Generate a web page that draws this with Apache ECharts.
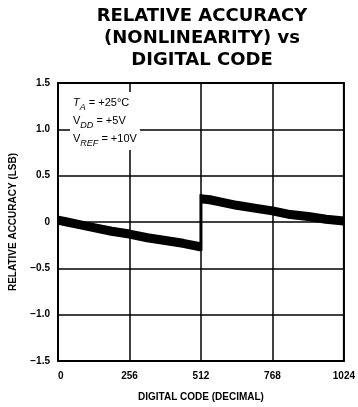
<!DOCTYPE html>
<html>
<head>
<meta charset="utf-8">
<script src="https://cdn.jsdelivr.net/npm/echarts@6/dist/echarts.min.js"></script>
<style>
  html, body { margin: 0; padding: 0; background: #fff; }
  #chart { width: 358px; height: 407px; }
</style>
</head>
<body>
<div id="chart"></div>
<script>
// digital code (x) and relative accuracy in LSB (band centre)
const codesLow = [0, 32, 64, 128, 192, 256, 320, 384, 448, 514];
const accuracyLow = [0.02, 0.0, -0.02, -0.06, -0.10, -0.13, -0.17, -0.20, -0.23, -0.27];
const codesHigh = [510, 544, 576, 640, 704, 768, 832, 896, 960, 1024];
const accuracyHigh = [0.25, 0.24, 0.22, 0.18, 0.15, 0.12, 0.08, 0.06, 0.03, 0.01];
const stepCode = [512, 512];
const stepAccuracy = [-0.31, 0.30];
const xTicks = [0, 256, 512, 768, 1024];
const titleLines = ['RELATIVE ACCURACY', '(NONLINEARITY) vs', 'DIGITAL CODE'];

const FONT = '"Liberation Sans", Arial, sans-serif';
const TITLE_FONT = '"DejaVu Sans", "Liberation Sans", sans-serif';
const chart = echarts.init(document.getElementById('chart'), null, { renderer: 'canvas' });

const pairs = (xs, ys) => xs.map((x, i) => [x, ys[i]]);
const bandStyle = { color: '#000', width: 9, cap: 'butt', join: 'bevel' };

const option = {
    animation: false,
    title: {
        text: titleLines.join('\n'),
        left: 197,
        top: 0,
        textAlign: 'center',
        textStyle: { fontFamily: TITLE_FONT, fontSize: 18, fontWeight: 'bold', color: '#000', lineHeight: 22 },
    },
    grid: { left: 58, right: 14, top: 83, bottom: 45, show: true, borderColor: '#000', borderWidth: 2 },
    xAxis: {
        type: 'value', min: 0, max: 1024, interval: 256,
        name: 'DIGITAL CODE (DECIMAL)', nameLocation: 'middle', nameGap: 31,
        nameTextStyle: { fontFamily: FONT, fontSize: 10, fontWeight: 'bold', color: '#000' },
        axisLine: { show: false },
        axisTick: { show: false },
        axisLabel: {
            fontFamily: FONT, fontSize: 10, fontWeight: 'bold', color: '#000', margin: 10,
            customValues: xTicks,
            formatter: v => v === 0 ? '  0' : String(v),
        },
        splitLine: { lineStyle: { color: '#000', width: 1.5 } },
    },
    yAxis: {
        type: 'value', min: -1.5, max: 1.5, interval: 0.5,
        name: 'RELATIVE ACCURACY (LSB)', nameLocation: 'middle', nameGap: 40, nameRotate: 90,
        nameTextStyle: { fontFamily: FONT, fontSize: 10, fontWeight: 'bold', color: '#000' },
        axisLine: { show: false },
        axisTick: { show: false },
        axisLabel: {
            fontFamily: FONT, fontSize: 10, fontWeight: 'bold', color: '#000', margin: 8,
            formatter: v => v === 0 ? '0' : (v < 0 ? '\u2212' + Math.abs(v).toFixed(1) : v.toFixed(1)),
        },
        splitLine: { lineStyle: { color: '#000', width: 1.5 } },
    },
    graphic: [{
        type: 'text',
        left: 70, top: 92, z: 100,
        style: {
            text: '{i|T}{s|A}{n| = +25\u00b0C}\n{n|V}{s|DD}{n| = +5V}\n{n|V}{s|REF}{n| = +10V}',
            backgroundColor: '#fff',
            padding: [2, 3, 2, 3],
            lineHeight: 18,
            rich: {
                i: { fontFamily: FONT, fontSize: 11, fontStyle: 'italic', fill: '#000', lineHeight: 18 },
                n: { fontFamily: FONT, fontSize: 11, fill: '#000', lineHeight: 18 },
                s: { fontFamily: FONT, fontSize: 9, fontStyle: 'italic', fill: '#000', verticalAlign: 'bottom', lineHeight: 12 },
            },
        },
    }],
    series: [
        { type: 'line', data: pairs(codesLow, accuracyLow), showSymbol: false, lineStyle: bandStyle, z: 5 },
        { type: 'line', data: pairs(codesHigh, accuracyHigh), showSymbol: false, lineStyle: bandStyle, z: 5 },
        { type: 'line', data: pairs(stepCode, stepAccuracy), showSymbol: false,
          lineStyle: { color: '#000', width: 3, cap: 'butt' }, z: 5 },
    ],
};

chart.setOption(option);
</script>
</body>
</html>
